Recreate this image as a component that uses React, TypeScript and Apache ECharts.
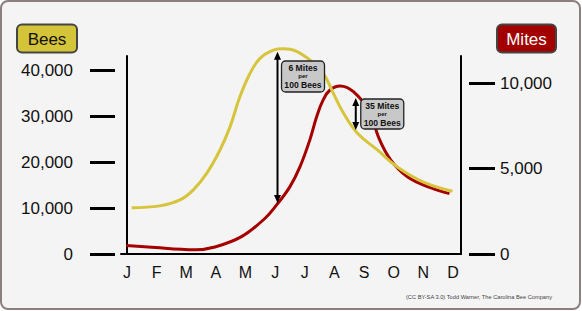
import React, { useEffect, useRef } from "react";
import * as echarts from "echarts";

const months = ["J", "F", "M", "A", "M", "J", "J", "A", "S", "O", "N", "D"];
const monthPositions = [0, 1, 2, 3, 4, 5, 6, 7, 8, 9, 10, 11];
const beeTicks = [0, 10000, 20000, 30000, 40000];
const miteTicks = [0, 5000, 10000];

// [month position, bees]
const bees: [number, number][] = [
  [0.16, 10100], [1.11, 10500], [1.79, 11800], [2.24, 14000], [2.69, 17600],
  [3.14, 22700], [3.48, 27800], [3.81, 34300], [4.15, 39400], [4.49, 42700],
  [4.94, 44500], [5.27, 44800], [5.51, 44700], [6.18, 42300], [6.62, 39500],
  [6.96, 35100], [7.3, 30800], [7.77, 26400], [8.45, 22700], [9.12, 19000],
  [10.0, 15700], [10.98, 13700],
];

// [month position, mites]
const mites: [number, number][] = [
  [-0.03, 490], [0.71, 410], [2.3, 250], [2.97, 410], [3.88, 1030],
  [4.66, 2090], [5.05, 2870], [5.5, 3940], [5.84, 5110], [6.17, 6670],
  [6.4, 8030], [6.62, 9010], [6.85, 9590], [7.19, 9830], [7.64, 9490],
  [8.21, 8270], [8.48, 6860], [8.89, 5520], [9.46, 4520], [10.24, 3880],
  [10.88, 3530],
];

const arrowMonths = [5.08, 7.72];
const arrowBees = [44150, 27060];
const arrowMites = [2980, 9130];
const notes = [
  ["6 Mites", "per", "100 Bees"],
  ["35 Mites", "per", "100 Bees"],
];
const credit = "(CC BY-SA 3.0) Todd Warner, The Carolina Bee Company";

const FONT = "'Liberation Sans', Arial, Helvetica, sans-serif";
const BEE_COLOR = "#d6c43c";
const MITE_COLOR = "#a50000";
const BEE_MAX = 43208;
const MITE_MAX = 11579;

export default function App() {
  const ref = useRef<HTMLDivElement>(null);
  useEffect(() => {
    if (!ref.current) return;
    const chart = echarts.init(ref.current, undefined, { renderer: "svg" });
    const fmt = (v: number) => Number(v).toLocaleString("en-US");
    const labelStyle = { fontSize: 17, color: "#111", fontFamily: FONT };
    chart.setOption({
      animation: false,
      grid: { left: 121, right: 121, top: 56, bottom: 57 },
      xAxis: {
        type: "value",
        min: -0.2,
        max: 11.27,
        axisLine: { show: true, onZero: false, lineStyle: { color: "#000", width: 2 } },
        axisTick: { show: false },
        splitLine: { show: false },
        axisLabel: {
          customValues: monthPositions,
          formatter: (v: number) => months[Math.round(v)] ?? "",
          margin: 10,
          fontSize: 16,
          color: "#111",
          fontFamily: FONT,
        },
      },
      yAxis: [
        {
          type: "value", position: "left", min: 0, max: BEE_MAX,
          axisLine: { show: true, lineStyle: { color: "#000", width: 2 } },
          axisTick: { show: false }, axisLabel: { show: false }, splitLine: { show: false },
        },
        {
          type: "value", position: "left", offset: 6, min: 0, max: BEE_MAX,
          axisLine: { show: false },
          axisTick: { show: true, length: 25, customValues: beeTicks, lineStyle: { color: "#000", width: 3 } },
          axisLabel: { customValues: beeTicks, formatter: fmt, margin: 42, ...labelStyle },
          splitLine: { show: false },
        },
        {
          type: "value", position: "right", min: 0, max: MITE_MAX,
          axisLine: { show: true, lineStyle: { color: "#000", width: 2 } },
          axisTick: { show: false }, axisLabel: { show: false }, splitLine: { show: false },
        },
        {
          type: "value", position: "right", offset: 8, min: 0, max: MITE_MAX,
          axisLine: { show: false },
          axisTick: { show: true, length: 26, customValues: miteTicks, lineStyle: { color: "#000", width: 3 } },
          axisLabel: { customValues: miteTicks, formatter: fmt, margin: 31, ...labelStyle },
          splitLine: { show: false },
        },
      ],
      series: [
        {
          name: "Mites", type: "line", yAxisIndex: 2, data: mites, smooth: 0.4, clip: false,
          showSymbol: false, lineStyle: { color: MITE_COLOR, width: 3 }, itemStyle: { color: MITE_COLOR },
        },
        {
          name: "Bees", type: "line", yAxisIndex: 0, data: bees, smooth: 0.4, clip: false,
          showSymbol: false, lineStyle: { color: BEE_COLOR, width: 3 }, itemStyle: { color: BEE_COLOR },
        },
      ],
    });

    const px = (m: number) => chart.convertToPixel({ xAxisIndex: 0 }, m) as number;
    const pyB = (v: number) => chart.convertToPixel({ yAxisIndex: 0 }, v) as number;
    const pyM = (v: number) => chart.convertToPixel({ yAxisIndex: 2 }, v) as number;

    const graphics: any[] = [];
    graphics.push({
      type: "rect", shape: { x: 17, y: 24.5, width: 60, height: 28, r: 5 },
      style: { fill: "#d4c43a", stroke: "#454545", lineWidth: 2 },
    });
    graphics.push({
      type: "text", x: 47, y: 39,
      style: { text: "Bees", fill: "#111", font: `17px ${FONT}`, align: "center", verticalAlign: "middle" },
    });
    graphics.push({
      type: "rect", shape: { x: 497, y: 24.5, width: 59, height: 28, r: 5 },
      style: { fill: "#a30000", stroke: "#454545", lineWidth: 2 },
    });
    graphics.push({
      type: "text", x: 526.5, y: 39,
      style: { text: "Mites", fill: "#fff", font: `17px ${FONT}`, align: "center", verticalAlign: "middle" },
    });
    graphics.push({
      type: "text", x: 552, y: 297,
      style: { text: credit, fill: "#444", font: `5.7px ${FONT}`, align: "right", verticalAlign: "middle" },
    });

    const boxTop = [61, 99];
    const boxH = [31, 30];
    const boxGap = [4, 5];
    arrowMonths.forEach((m, i) => {
      const x = px(m);
      const yb = pyB(arrowBees[i]);
      const ym = pyM(arrowMites[i]);
      const top = Math.min(yb, ym);
      const bot = Math.max(yb, ym);
      const hl = 8, hw = 3.5;
      graphics.push({
        type: "line", z: 10,
        shape: { x1: x, y1: top + hl - 1, x2: x, y2: bot - hl + 1 },
        style: { stroke: "#000", lineWidth: 2 },
      });
      graphics.push({
        type: "polygon", z: 10,
        shape: { points: [[x, top], [x - hw, top + hl], [x + hw, top + hl]] },
        style: { fill: "#000" },
      });
      graphics.push({
        type: "polygon", z: 10,
        shape: { points: [[x, bot], [x - hw, bot - hl], [x + hw, bot - hl]] },
        style: { fill: "#000" },
      });
      const bx = x + boxGap[i];
      const bw = 43;
      graphics.push({
        type: "rect", z: 10,
        shape: { x: bx, y: boxTop[i], width: bw, height: boxH[i], r: 4 },
        style: { fill: "#c8c8c8", stroke: "#222", lineWidth: 1.3 },
      });
      const offs = [7.3, 15, 23.8];
      const sizes = [8.6, 6, 8.6];
      notes[i].forEach((t, j) => {
        graphics.push({
          type: "text", z: 11, x: bx + bw / 2, y: boxTop[i] + offs[j],
          style: {
            text: t, fill: "#111", font: `bold ${sizes[j]}px ${FONT}`,
            align: "center", verticalAlign: "middle",
          },
        });
      });
    });

    chart.setOption({ graphic: { elements: graphics } });
    return () => chart.dispose();
  }, []);

  return (
    <div style={{ position: "fixed", left: 0, top: 0, width: 582, height: 311, background: "#fff" }}>
      <div
        style={{
          position: "absolute", left: 0, top: 0, width: 581, height: 310, boxSizing: "border-box",
          border: "2px solid #8c7f7f", borderRadius: 8, background: "#f4f4f4",
        }}
      />
      <div ref={ref} style={{ position: "absolute", left: 0, top: 0, width: 582, height: 311 }} />
    </div>
  );
}
